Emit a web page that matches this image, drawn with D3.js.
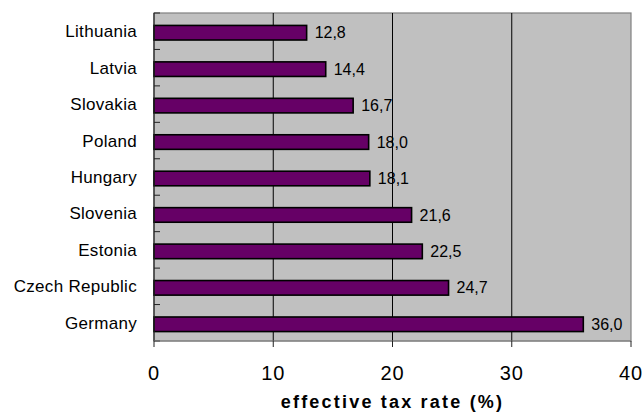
<!DOCTYPE html>
<html>
<head>
<meta charset="utf-8">
<script src="https://cdn.jsdelivr.net/npm/d3@7"></script>
<style>
  body { margin: 0; background: #fff; }
  text { font-family: "Liberation Sans", Arial, sans-serif; }
</style>
</head>
<body>
<svg id="grafico"></svg>
<script>
// dados do gráfico
let paises = ["Lithuania", "Latvia", "Slovakia", "Poland", "Hungary", "Slovenia", "Estonia", "Czech Republic", "Germany"];
let taxas = [12.8, 14.4, 16.7, 18.0, 18.1, 21.6, 22.5, 24.7, 36.0];
let ticksX = [0, 10, 20, 30, 40];

let width = 643, height = 414;
let margem = {top: 13, right: 12, bottom: 73, left: 154};

let svg = d3.select("#grafico")
    .attr("width", width)
    .attr("height", height);

let x = d3.scaleLinear().domain([0, 40]).range([margem.left, width - margem.right]);
let y = d3.scaleBand().domain(paises).range([margem.top, height - margem.bottom]).paddingInner(0.6).paddingOuter(0.3);

// fundo cinza da área do gráfico
svg.append("rect")
    .attr("x", x(0)).attr("y", margem.top)
    .attr("width", x(40) - x(0)).attr("height", height - margem.bottom - margem.top)
    .attr("fill", "#c0c0c0")
    .attr("stroke", "#808080")
    .attr("stroke-width", 1.2);

// linhas de grade
svg.append("g").selectAll("line")
    .data(ticksX.slice(1, -1))
    .enter().append("line")
    .attr("x1", d => x(d)).attr("x2", d => x(d))
    .attr("y1", margem.top).attr("y2", height - margem.bottom)
    .attr("stroke", "#000").attr("stroke-width", 1);

// barras
svg.append("g").selectAll("rect")
    .data(paises)
    .enter().append("rect")
    .attr("x", x(0))
    .attr("y", (d, i) => y(d) + 1.5)
    .attr("width", (d, i) => x(taxas[i]) - x(0))
    .attr("height", y.bandwidth())
    .attr("fill", "#660066")
    .attr("stroke", "#000")
    .attr("stroke-width", 1.6);

// rótulos de valor
svg.append("g").selectAll("text")
    .data(paises)
    .enter().append("text")
    .attr("x", (d, i) => x(taxas[i]) + 8)
    .attr("y", (d, i) => y(d) + 1.5 + y.bandwidth() / 2)
    .attr("dy", "0.35em")
    .attr("font-size", 16)
    .attr("fill", "#000")
    .text((d, i) => taxas[i].toFixed(1).replace(".", ","));

// eixo y
let eixoY = svg.append("g").attr("transform", "translate(" + x(0) + ",0)");
eixoY.append("line")
    .attr("y1", margem.top).attr("y2", height - margem.bottom)
    .attr("stroke", "#222").attr("stroke-width", 1.2);
let limites = d3.range(paises.length + 1).map(i => margem.top + i * (height - margem.bottom - margem.top) / paises.length);
eixoY.selectAll(".tk")
    .data(limites)
    .enter().append("line")
    .attr("x1", 0).attr("x2", 6)
    .attr("y1", d => d).attr("y2", d => d)
    .attr("stroke", "#222");
eixoY.selectAll(".rotulo")
    .data(paises)
    .enter().append("text")
    .attr("x", -17)
    .attr("y", d => y(d) + y.bandwidth() / 2)
    .attr("dy", "0.35em")
    .attr("text-anchor", "end")
    .attr("font-size", 17)
    .attr("letter-spacing", "0.3px")
    .text(d => d);

// eixo x
let eixoX = svg.append("g").attr("transform", "translate(0," + (height - margem.bottom) + ")");
eixoX.append("line")
    .attr("x1", x(0)).attr("x2", x(40))
    .attr("stroke", "#808080");
eixoX.selectAll(".tk")
    .data(ticksX)
    .enter().append("line")
    .attr("x1", d => x(d)).attr("x2", d => x(d))
    .attr("y1", 0).attr("y2", 6)
    .attr("stroke", "#222");
eixoX.selectAll(".rotulo")
    .data(ticksX)
    .enter().append("text")
    .attr("x", d => x(d))
    .attr("y", 32)
    .attr("dy", "0.35em")
    .attr("text-anchor", "middle")
    .attr("font-size", 20)
    .attr("letter-spacing", "1px")
    .text(d => d);

// título do eixo x
svg.append("text")
    .attr("x", (x(0) + x(40)) / 2)
    .attr("y", 408)
    .attr("text-anchor", "middle")
    .attr("font-size", 18)
    .attr("font-weight", "bold")
    .attr("letter-spacing", "2.2px")
    .text("effective tax rate (%)");
</script>
</body>
</html>
